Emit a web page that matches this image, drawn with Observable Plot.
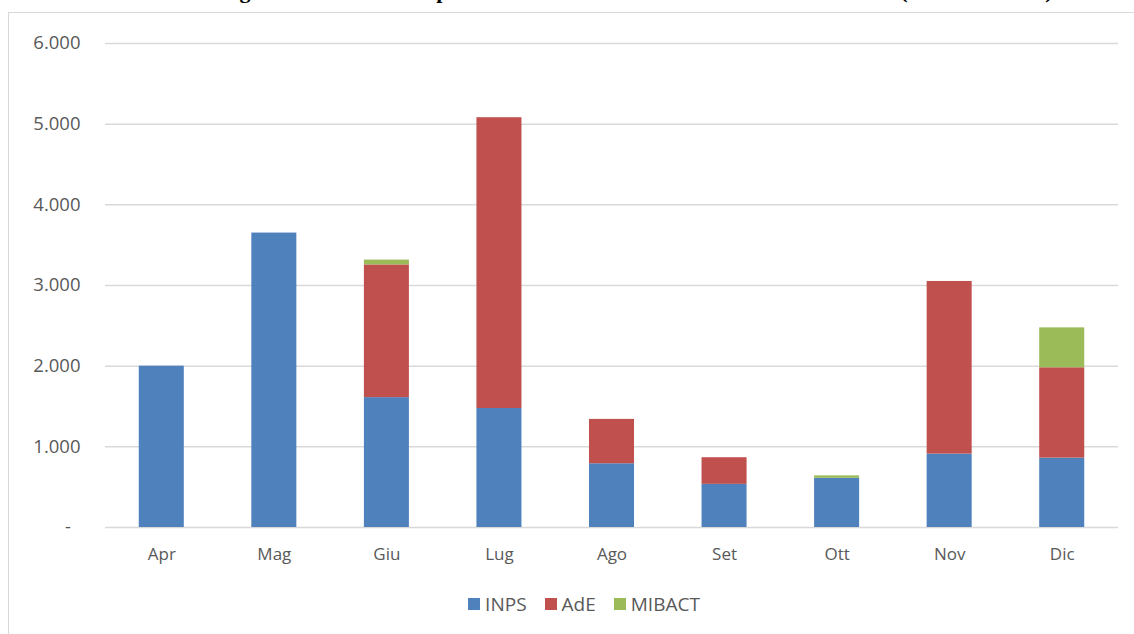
<!DOCTYPE html>
<html>
<head>
<meta charset="utf-8">
<script src="https://cdn.jsdelivr.net/npm/d3@7"></script>
<script src="https://cdn.jsdelivr.net/npm/@observablehq/plot@0.6"></script>
<style>
  html, body { margin: 0; padding: 0; background: #fff; overflow: hidden; }
  body { width: 1134px; height: 634px; position: relative; font-family: "Open Sans", sans-serif; }
  #title { position: absolute; left: 220px; top: -20px; font-family: "Liberation Serif", "DejaVu Serif", serif; font-weight: bold; font-size: 22px; line-height: 22px; white-space: nowrap; color: #000; }
  #frame { position: absolute; left: 8px; top: 12px; width: 1140px; height: 640px; border: 1.5px solid #D9D9D9; box-sizing: border-box; }
  #chart { position: absolute; left: 0; top: 0; }
  #legend { position: absolute; left: 0; width: 1134px; top: 591px; display: flex; justify-content: center; gap: 18px; font-size: 19px; line-height: 26px; color: #595959; padding-left: 34px; box-sizing: border-box; }
  #legend .item { display: flex; align-items: center; }
  #legend .sw { width: 12px; height: 12px; margin-right: 5px; display: inline-block; }
</style>
</head>
<body>
<div id="title">Figura 2 – Risorse complessive mensili distribuite dalle amministrazioni (milioni di euro)</div>
<div id="frame"></div>
<div id="chart"></div>
<div id="legend"></div>
<script>
const months = ["Apr", "Mag", "Giu", "Lug", "Ago", "Set", "Ott", "Nov", "Dic"];
const seriesNames = ["INPS", "AdE", "MIBACT"];
const inps   = [2000, 3650, 1610, 1475, 790, 535, 610, 910, 860];
const ade    = [0, 0, 1645, 3605, 550, 330, 0, 2140, 1120];
const mibact = [0, 0, 60, 0, 0, 0, 30, 0, 495];
const seriesColors = ["#4F81BD", "#C0504D", "#9BBB59"];
const yTicks = [0, 1000, 2000, 3000, 4000, 5000, 6000];

const seriesValues = [inps, ade, mibact];
const rows = [];
months.forEach((m, i) => {
  seriesNames.forEach((s, j) => {
    rows.push({month: m, series: s, value: seriesValues[j][i]});
  });
});

const fmt = d => d === 0 ? "-\u00a0\u00a0" : d3.format(",")(d).replace(/,/g, ".");

const chart = Plot.plot({
  width: 1134,
  height: 580,
  marginTop: 43,
  marginBottom: 53,
  marginLeft: 105,
  marginRight: 16,
  style: {fontFamily: "Open Sans, sans-serif", fontSize: "17px", color: "#595959", background: "transparent"},
  x: {domain: months, paddingInner: 0.6, paddingOuter: 0.3, round: false, label: null},
  y: {domain: [0, 6000], label: null},
  color: {domain: seriesNames, range: seriesColors},
  marks: [
    Plot.ruleY(yTicks, {stroke: "#D9D9D9", strokeWidth: 1.5}),
    Plot.barY(rows, {x: "month", y: "value", fill: "series"}),
    Plot.axisY(yTicks, {tickSize: 0, tickPadding: 25, tickFormat: fmt, fontSize: 18.5, label: null}),
    Plot.axisX({tickSize: 0, tickPadding: 20, fontSize: 17, label: null})
  ]
});
document.getElementById("chart").appendChild(chart);

const legend = document.getElementById("legend");
seriesNames.forEach((s, i) => {
  const item = document.createElement("div");
  item.className = "item";
  const sw = document.createElement("span");
  sw.className = "sw";
  sw.style.background = seriesColors[i];
  item.appendChild(sw);
  item.appendChild(document.createTextNode(s));
  legend.appendChild(item);
});
</script>
</body>
</html>
